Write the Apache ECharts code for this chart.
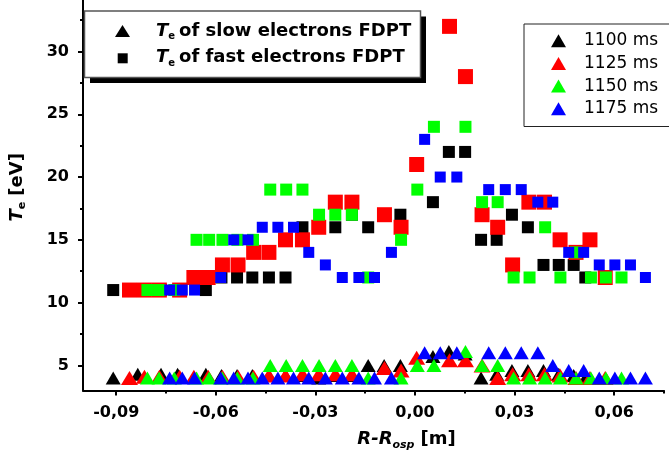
<!DOCTYPE html>
<html><head><meta charset="utf-8">
<script src="https://cdn.jsdelivr.net/npm/echarts@6/dist/echarts.min.js"></script>
<style>html,body{margin:0;padding:0;background:#fff}#c{width:669px;height:456px}</style>
</head><body><div id="c"></div>
<script>
// ---- tick labels ----
const xTicks = [-0.09, -0.06, -0.03, 0, 0.03, 0.06];
const xMinorTicks = [-0.075, -0.045, -0.015, 0.015, 0.045, 0.075];
const yTicks = [5, 10, 15, 20, 25, 30];
const yMinorTicks = [7.5, 12.5, 17.5, 22.5, 27.5, 32.5];
const times = ['1100 ms', '1125 ms', '1150 ms', '1175 ms'];

// ---- 1100 ms ----
const r1100 = [-0.0909, -0.0835, -0.0765, -0.0715, -0.0630, -0.0583, -0.0536, -0.0490, -0.0440, -0.0390, -0.0339, -0.0290, -0.0240, -0.0190, -0.0141, -0.0093, -0.0044, 0.0054, 0.0102, 0.0151, 0.0199, 0.0246, 0.0292, 0.0340, 0.0387, 0.0433, 0.0478, 0.0513];
const fast1100 = [11, 11, 11, 11, 11, 12, 12, 12, 12, 12, 16, 16, 16, 17, 16, 17, 17, 18, 22, 22, 15, 15, 17, 16, 13, 13, 13, 12];
const slow1100 = [4, 4.3, 4.3, 4.3, 4.3, 4.2, 4.2, 4.2, 4.2, 4.2, 4.2, 4.0, 4.2, 4.2, 5.0, 5.0, 5.0, 5.7, 6.1, 5.9, 4.0, 4.3, 4.6, 4.6, 4.6, 4.3, 4.2, 4.0];

// ---- 1125 ms ----
const r1125 = [-0.0860, -0.0815, -0.0770, -0.0709, -0.0666, -0.0623, -0.0580, -0.0533, -0.0486, -0.0440, -0.0390, -0.0339, -0.0290, -0.0240, -0.0190, -0.0092, -0.0042, 0.0005, 0.0104, 0.0152, 0.0202, 0.0249, 0.0294, 0.0343, 0.0390, 0.0437, 0.0485, 0.0527, 0.0573];
const fast1125 = [11, 11, 11, 11, 12, 12, 13, 13, 14, 14, 15, 15, 16, 18, 18, 17, 16, 21, 32, 28, 17, 16, 13, 18, 18, 15, 14, 15, 12];
const slow1125 = [4.0, 4.1, 4.1, 4.1, 4.1, 4.1, 4.1, 4.1, 4.1, 4.2, 4.2, 4.3, 4.3, 4.3, 4.3, 4.8, 4.6, 5.6, 5.4, 5.4, 5.0, 4.0, 4.3, 4.3, 4.3, 4.2, 4.0, 4.0, 4.0];

// ---- 1150 ms ----
const r1150 = [-0.0806, -0.0771, -0.0725, -0.0658, -0.0620, -0.0580, -0.0535, -0.0488, -0.0436, -0.0388, -0.0339, -0.0289, -0.0240, -0.0190, -0.0141, -0.0042, 0.0007, 0.0057, 0.0152, 0.0202, 0.0249, 0.0297, 0.0345, 0.0392, 0.0438, 0.0485, 0.0530, 0.0575, 0.0622];
const fast1150 = [11, 11, 11, 15, 15, 15, 15, 15, 19, 19, 19, 17, 17, 17, 12, 15, 19, 24, 24, 18, 18, 12, 12, 16, 12, 14, 12, 12, 12];
const slow1150 = [4, 4, 4, 4, 4, 4, 4, 4, 5, 5, 5, 5, 5, 5, 4, 4, 5, 5, 6.1, 5, 5, 4, 4, 4, 4, 4, 4, 4, 4];

// ---- 1175 ms ----
const r1175 = [-0.0739, -0.0701, -0.0664, -0.0585, -0.0546, -0.0503, -0.0460, -0.0413, -0.0366, -0.0320, -0.0270, -0.0219, -0.0169, -0.0122, -0.0071, 0.0029, 0.0076, 0.0126, 0.0222, 0.0272, 0.0320, 0.0370, 0.0415, 0.0463, 0.0508, 0.0555, 0.0602, 0.0649, 0.0694];
const fast1175 = [11, 11, 11, 12, 15, 15, 16, 16, 16, 14, 13, 12, 12, 12, 14, 23, 20, 20, 19, 19, 19, 18, 18, 14, 14, 13, 13, 13, 12];
const slow1175 = [4, 4, 4, 4, 4, 4, 4, 4, 4, 4, 4, 4, 4, 4, 4, 6, 6, 6, 6, 6, 6, 6, 5, 4.6, 4.6, 4, 4, 4, 4];

// ---- styles ----
const palette = ['#000000', '#ff0000', '#00ff00', '#0000ff'];
const squareSizes = [12, 15, 12, 11];
const triSizes = [[15, 13], [17, 14], [15, 13], [15, 13]];
const FONT = 'DejaVu Sans';

const groups = [
  { r: r1100, fast: fast1100, slow: slow1100 },
  { r: r1125, fast: fast1125, slow: slow1125 },
  { r: r1150, fast: fast1150, slow: slow1150 },
  { r: r1175, fast: fast1175, slow: slow1175 }
];

const series = [];
groups.forEach((g, i) => {
  series.push({
    type: 'scatter', name: times[i], symbol: 'triangle', symbolSize: triSizes[i],
    itemStyle: { color: palette[i], opacity: 1 }, silent: true,
    data: g.r.map((x, j) => [x, g.slow[j]])
  });
});
groups.forEach((g, i) => {
  series.push({
    type: 'scatter', name: times[i], symbol: 'rect', symbolSize: squareSizes[i],
    itemStyle: { color: palette[i], opacity: 1 }, silent: true,
    data: g.r.map((x, j) => [x, g.fast[j]])
  });
});

const fmtX = v => {
  const s = Math.abs(v).toFixed(2).replace('.', ',');
  return (v < -1e-9 ? '-' : '') + s;
};

const axisLabelStyle = { fontFamily: FONT, fontWeight: 'bold', fontSize: 16, color: '#000' };
const richName = {
  t: { fontFamily: FONT, fontWeight: 'bold', fontStyle: 'italic', fontSize: 18, color: '#000' },
  s: { fontFamily: FONT, fontWeight: 'bold', fontStyle: 'italic', fontSize: 11, color: '#000', padding: [11, 0, 0, 0] },
  n: { fontFamily: FONT, fontWeight: 'bold', fontSize: 18, color: '#000', padding: [0, 0, 0, 6] }
};
const richYName = {
  t: richName.t,
  s: { fontFamily: FONT, fontWeight: 'bold', fontSize: 11, color: '#000', padding: [11, 0, 0, 0] },
  n: richName.n
};
const richLegend = {
  t: { fontFamily: FONT, fontWeight: 'bold', fontStyle: 'italic', fontSize: 18, color: '#000' },
  s: { fontFamily: FONT, fontWeight: 'bold', fontSize: 10, color: '#000', padding: [11, 0, 0, 0] },
  n: { fontFamily: FONT, fontWeight: 'bold', fontSize: 18, color: '#000', padding: [0, 0, 0, 4] }
};

const chart = echarts.init(document.getElementById('c'), null, { renderer: 'canvas' });
chart.setOption({
  animation: false,
  backgroundColor: '#fff',
  grid: { left: 83, right: 5, top: 0, bottom: 65.5, containLabel: false },
  xAxis: [{
    type: 'value', min: -0.1, max: 0.075, position: 'bottom',
    name: '{t|R-R}{s|osp}{n|[m]}', nameLocation: 'middle', nameGap: 38,
    nameTextStyle: { rich: richName, padding: [0, 0, 0, 66] },
    axisLine: { show: true, onZero: false, lineStyle: { color: '#000', width: 2 } },
    axisTick: { show: true, inside: false, length: 5, customValues: xTicks, lineStyle: { color: '#000', width: 2 } },
    axisLabel: Object.assign({ margin: 14, customValues: xTicks, formatter: fmtX }, axisLabelStyle),
    splitLine: { show: false }
  }, {
    type: 'value', min: -0.1, max: 0.075, position: 'bottom',
    axisLine: { show: false, onZero: false },
    axisTick: { show: true, inside: false, length: 3, customValues: xMinorTicks, lineStyle: { color: '#000', width: 2 } },
    axisLabel: { show: false },
    splitLine: { show: false }
  }],
  yAxis: [{
    type: 'value', min: 3, max: 34.1, position: 'left',
    name: '{t|T}{s|e}{n|[eV]}', nameLocation: 'middle', nameGap: 55,
    nameTextStyle: { rich: richYName, padding: [0, 0, 0, 16] },
    axisLine: { show: true, onZero: false, lineStyle: { color: '#000', width: 2 } },
    axisTick: { show: true, inside: false, length: 5, customValues: yTicks, lineStyle: { color: '#000', width: 2 } },
    axisLabel: Object.assign({ margin: 14, customValues: yTicks }, axisLabelStyle),
    splitLine: { show: false }
  }, {
    type: 'value', min: 3, max: 34.1, position: 'left',
    axisLine: { show: false, onZero: false },
    axisTick: { show: true, inside: false, length: 3, customValues: yMinorTicks, lineStyle: { color: '#000', width: 2 } },
    axisLabel: { show: false },
    splitLine: { show: false }
  }],
  legend: {
    left: 524, top: 24, orient: 'vertical', selectedMode: false,
    data: times.map(n => ({ name: n, icon: 'triangle' })),
    itemWidth: 15, itemHeight: 13, itemGap: 4.7,
    padding: [7.7, 30, 8.7, 27],
    borderColor: '#222', borderWidth: 1, backgroundColor: '#fff',
    textStyle: { fontFamily: FONT, fontSize: 17, color: '#000', lineHeight: 18, padding: [0, 0, 0, 13] },
    z: 20
  },
  graphic: [
    { type: 'rect', z: 100, shape: { x: 90, y: 16.5, width: 336, height: 66.5 }, style: { fill: '#000' } },
    { type: 'rect', z: 101, shape: { x: 84.5, y: 11, width: 336, height: 66.5 }, style: { fill: '#fff', stroke: '#555', lineWidth: 1.5 } },
    { type: 'polygon', z: 102, shape: { points: [[115, 37], [130, 37], [122.5, 25]] }, style: { fill: '#000' } },
    { type: 'rect', z: 102, shape: { x: 117.7, y: 53.3, width: 10, height: 10 }, style: { fill: '#000' } },
    { type: 'text', z: 102, x: 156, y: 31, style: { text: '{t|T}{s|e}{n|of slow electrons FDPT}', verticalAlign: 'middle', rich: richLegend } },
    { type: 'text', z: 102, x: 156, y: 57.5, style: { text: '{t|T}{s|e}{n|of fast electrons FDPT}', verticalAlign: 'middle', rich: richLegend } }
  ],
  series: series
});
</script></body></html>
